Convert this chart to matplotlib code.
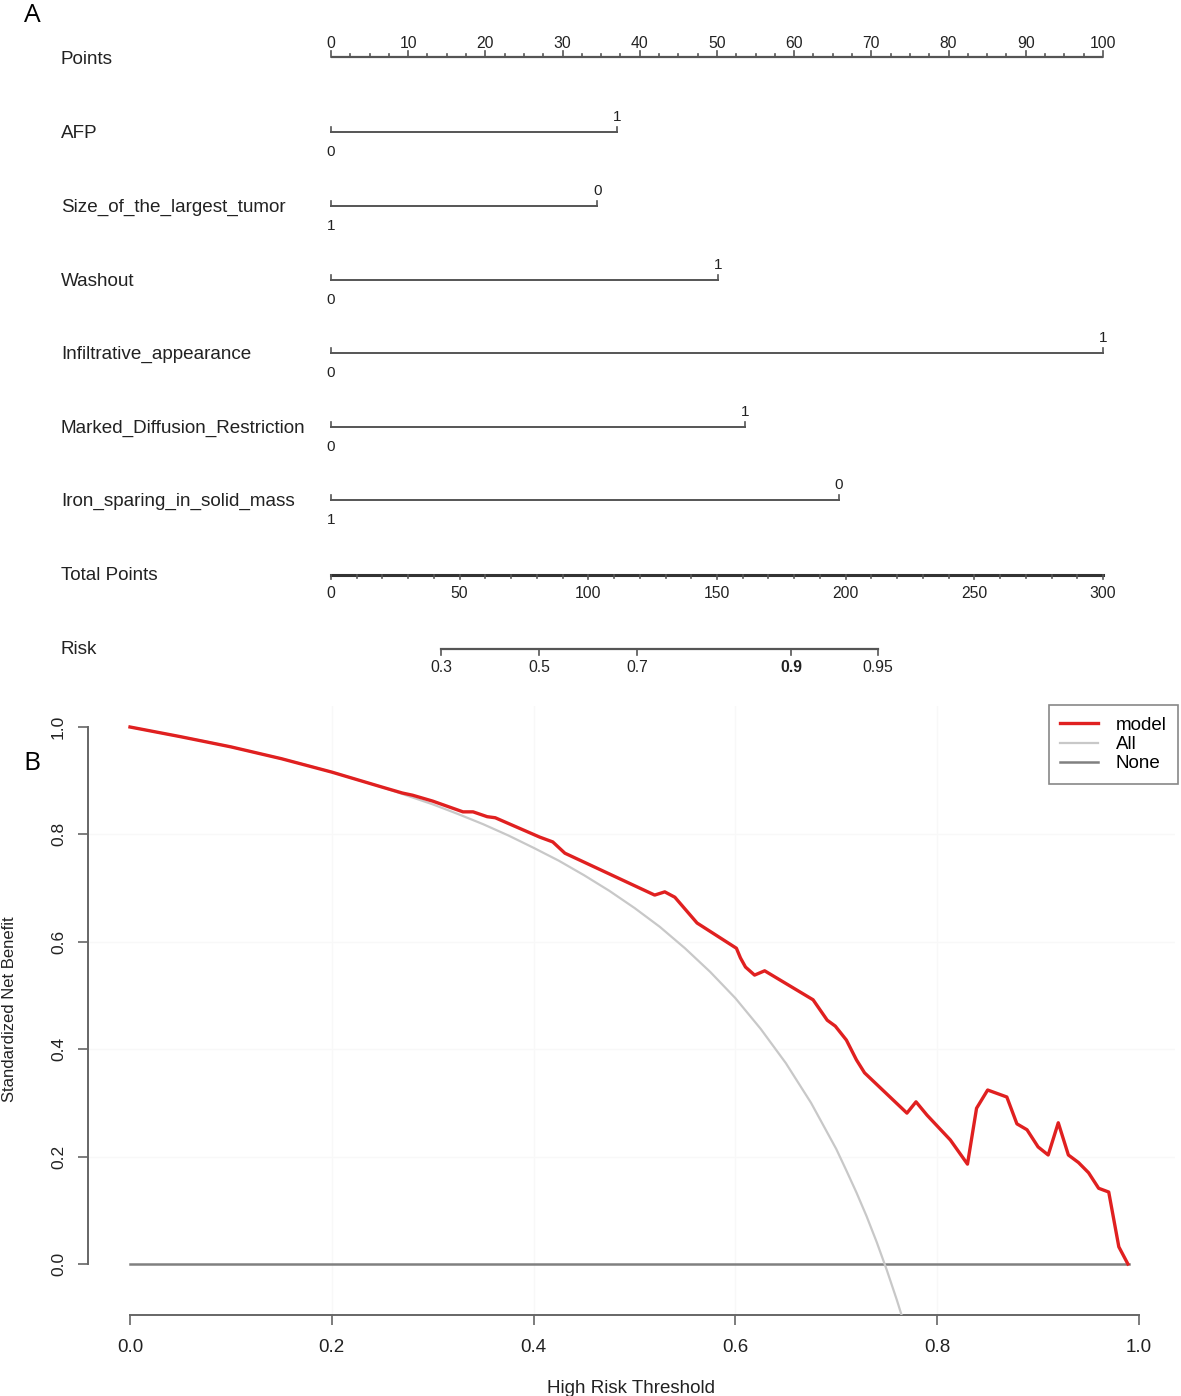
import matplotlib
matplotlib.use("Agg")
import matplotlib.pyplot as plt
import numpy as np

# ---------------- data ----------------
var_names = ["AFP", "Size_of_the_largest_tumor", "Washout", "Infiltrative_appearance",
             "Marked_Diffusion_Restriction", "Iron_sparing_in_solid_mass"]
var_max_points = [37.0, 34.5, 50.1, 100.0, 53.6, 65.8]
var_low_label = ["0", "1", "0", "0", "0", "1"]    # level at 0 points
var_high_label = ["1", "0", "1", "1", "1", "0"]   # level at max points

points_ticks = [0, 10, 20, 30, 40, 50, 60, 70, 80, 90, 100]
total_ticks = [0, 50, 100, 150, 200, 250, 300]
risk_labels = ["0.3", "0.5", "0.7", "0.9", "0.95"]
risk_total_points = [42.7, 80.8, 118.9, 178.8, 212.6]

thr_model = [0, 0.05, 0.10, 0.15, 0.20, 0.25, 0.27, 0.28, 0.30, 0.33, 0.34, 0.354, 0.362,
             0.406, 0.419, 0.431, 0.52, 0.53, 0.54, 0.562, 0.601, 0.605, 0.61, 0.619, 0.629,
             0.677, 0.691, 0.699, 0.71, 0.72, 0.728, 0.77, 0.779, 0.79, 0.813, 0.83, 0.839,
             0.85, 0.869, 0.879, 0.889, 0.90, 0.91, 0.92, 0.93, 0.94, 0.95, 0.96, 0.97,
             0.98, 0.989]
nb_model = [1.0, 0.982, 0.963, 0.941, 0.916, 0.888, 0.877, 0.873, 0.862, 0.842, 0.842, 0.833,
            0.831, 0.795, 0.786, 0.765, 0.687, 0.693, 0.683, 0.635, 0.588, 0.570, 0.553, 0.538,
            0.546, 0.492, 0.454, 0.443, 0.417, 0.380, 0.356, 0.281, 0.302, 0.277, 0.231, 0.186,
            0.290, 0.324, 0.311, 0.261, 0.250, 0.218, 0.203, 0.263, 0.203, 0.189, 0.170, 0.141,
            0.134, 0.032, 0.0]

thr_all = [0, 0.025, 0.05, 0.075, 0.10, 0.125, 0.15, 0.175, 0.20, 0.225, 0.25, 0.275, 0.30,
           0.325, 0.35, 0.375, 0.40, 0.425, 0.45, 0.475, 0.50, 0.525, 0.55, 0.575, 0.60,
           0.625, 0.65, 0.675, 0.70, 0.71, 0.72, 0.73, 0.74, 0.75, 0.76, 0.765]
nb_all = [1.0, 0.991, 0.982, 0.973, 0.963, 0.952, 0.941, 0.929, 0.916, 0.902, 0.888, 0.872,
          0.856, 0.838, 0.819, 0.798, 0.775, 0.751, 0.724, 0.695, 0.663, 0.628, 0.588, 0.544,
          0.495, 0.438, 0.374, 0.300, 0.214, 0.174, 0.133, 0.089, 0.041, -0.011, -0.067, -0.097]

thr_none = [0, 0.99]
nb_none = [0, 0]

# ---------------- figure ----------------
W, H = 1181, 1396
plt.rcParams['font.family'] = ['Liberation Sans', 'DejaVu Sans']
fig = plt.figure(figsize=(W / 100, H / 100), dpi=100)

lc = "#555555"
tc = "#222222"

# ---------- Panel A : nomogram ----------
PX = 7.72  # pixels per point
TOPH = 700
axA = fig.add_axes([0, 1 - TOPH / H, 1, TOPH / H])
axA.set_xlim(-331 / PX, (W - 331) / PX)
axA.set_ylim(TOPH, 0)
axA.axis('off')

rows = [57, 132, 206, 280, 353, 427, 500, 575, 649]
xlab = (61 - 331) / PX
lab_fs = 13.6

# Points axis
y0 = rows[0]
axA.plot([0, 100], [y0, y0], color=lc, lw=1.6, solid_capstyle='butt')
for v in np.arange(0, 100.01, 2.5):
    ln = 6 if abs(v % 10) < 1e-9 else 3
    axA.plot([v, v], [y0, y0 - ln], color=lc, lw=1.2)
for v in points_ticks:
    axA.text(v, 43, str(v), ha='center', va='center', fontsize=11.3, color=tc)
axA.text(xlab, y0 + 3, "Points", ha='left', va='center', fontsize=lab_fs, color=tc)

# variable rows
for i, name in enumerate(var_names):
    y = rows[i + 1]
    mx = var_max_points[i]
    axA.plot([0, mx], [y, y], color=lc, lw=1.4)
    axA.plot([0, 0], [y, y - 5], color=lc, lw=1.2)
    axA.plot([mx, mx], [y, y - 5], color=lc, lw=1.2)
    axA.text(mx, y - 15, var_high_label[i], ha='center', va='center', fontsize=11, color=tc)
    axA.text(0, y + 20, var_low_label[i], ha='center', va='center', fontsize=11, color=tc)
    axA.text(xlab, y + 1, name, ha='left', va='center', fontsize=lab_fs, color=tc)

# Total points
yt = rows[7]
axA.plot([0, 100], [yt, yt], color="#333333", lw=2.2)
for v in range(0, 301, 10):
    p = v * 100 / 300
    ln = 4 if v % 50 == 0 else 3
    axA.plot([p, p], [yt, yt + ln], color=lc, lw=1.2)
for v in total_ticks:
    axA.text(v * 100 / 300, yt + 18, str(v), ha='center', va='center', fontsize=11.3, color=tc)
axA.text(xlab, yt, "Total Points", ha='left', va='center', fontsize=lab_fs, color=tc)

# Risk
yr = rows[8]
rp = [t * 100 / 300 for t in risk_total_points]
axA.plot([rp[0], rp[-1]], [yr, yr], color=lc, lw=1.6)
for p, lab in zip(rp, risk_labels):
    axA.plot([p, p], [yr, yr + 6], color=lc, lw=1.2)
    axA.text(p, yr + 18, lab, ha='center', va='center', fontsize=11.3, color=tc,
             fontweight='bold' if lab == "0.9" else 'normal')
axA.text(xlab, yr, "Risk", ha='left', va='center', fontsize=lab_fs, color=tc)

fig.text(32 / W, 1 - 15 / H, "A", ha='center', va='center', fontsize=19,
         family=['Open Sans', 'DejaVu Sans'], color='black')
fig.text(32 / W, 1 - 763 / H, "B", ha='center', va='center', fontsize=19,
         family=['Open Sans', 'DejaVu Sans'], color='black')

# ---------- Panel B : decision curve ----------
XS = 1009.0  # px per unit x
YS = 537.0   # px per unit y
xlo, xhi = -0.042, 1.036
ylo, yhi = -0.095, 1.04
left_px = 130 + xlo * XS
right_px = 130 + xhi * XS
bot_px = 1264 - ylo * YS
top_px = 1264 - yhi * YS
axB = fig.add_axes([left_px / W, 1 - bot_px / H, (right_px - left_px) / W, (bot_px - top_px) / H])
axB.set_xlim(xlo, xhi)
axB.set_ylim(ylo, yhi)
axB.patch.set_alpha(0)

for g in [0.2, 0.4, 0.6, 0.8]:
    axB.axvline(g, color="#f8f8f8", lw=1, zorder=0)
    axB.axhline(g, color="#f8f8f8", lw=1, zorder=0)

axB.plot(thr_none, nb_none, color="#808080", lw=1.8, label="None", zorder=2)
axB.plot(thr_all, nb_all, color="#c8c8c8", lw=1.6, label="All", zorder=3)
axB.plot(thr_model, nb_model, color="#e02020", lw=2.4, label="model", zorder=4)

for s in ['top', 'right']:
    axB.spines[s].set_visible(False)
for s in ['left', 'bottom']:
    axB.spines[s].set_color("#666666")
    axB.spines[s].set_linewidth(1.4)
axB.spines['left'].set_bounds(0, 1)
axB.spines['bottom'].set_bounds(0, 1)

ticks = [0.0, 0.2, 0.4, 0.6, 0.8, 1.0]
axB.set_xticks(ticks)
axB.set_yticks(ticks)
axB.set_xticklabels([f"{t:.1f}" for t in ticks], fontsize=13.5, color=tc)
axB.set_yticklabels([f"{t:.1f}" for t in ticks], fontsize=12.5, color=tc, rotation=90, va='center')
axB.tick_params(axis='both', direction='out', length=7, width=1.2, color="#666666")
axB.tick_params(axis='x', pad=10.5)
axB.tick_params(axis='y', pad=8.5)

axB.set_xlabel("High Risk Threshold", fontsize=13.5, color=tc, labelpad=17)
fig.text(10 / W, 1 - 1009 / H, "Standardized Net Benefit", rotation=90, ha='center',
         va='center', fontsize=12, color=tc)

handles, labels = axB.get_legend_handles_labels()
order = [2, 1, 0]
leg_x = (1178 - left_px) / (right_px - left_px)
leg_y = (bot_px - 705) / (bot_px - top_px)
leg = axB.legend([handles[i] for i in order], [labels[i] for i in order],
                 loc='upper right', bbox_to_anchor=(leg_x, leg_y), fontsize=13.5,
                 frameon=True, fancybox=False, edgecolor="#888888", framealpha=1,
                 handlelength=2.0, borderpad=0.62, labelspacing=0.12, handletextpad=0.95,
                 borderaxespad=0.0)
leg.get_frame().set_linewidth(1.2)

fig.savefig("out.png", dpi=100)
